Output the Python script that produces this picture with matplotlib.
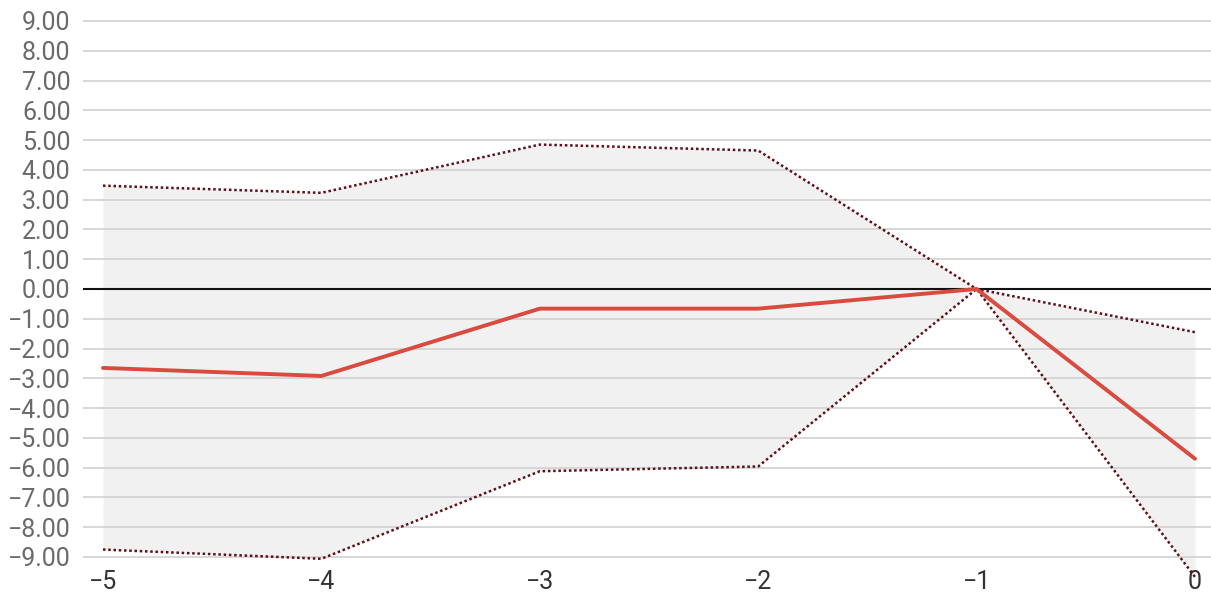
import matplotlib
matplotlib.use("Agg")
import matplotlib.pyplot as plt
from matplotlib.ticker import FuncFormatter

plt.rcParams['font.family'] = ['Roboto', 'DejaVu Sans']

x = [-5, -4, -3, -2, -1, 0]
mean_vals = [-2.65, -2.92, -0.66, -0.66, 0.0, -5.70]
upper_vals = [3.47, 3.23, 4.85, 4.65, 0.0, -1.45]
lower_vals = [-8.75, -9.06, -6.12, -5.96, 0.0, -9.67]
y_ticks = list(range(-9, 10))
x_ticks = [-5, -4, -3, -2, -1, 0]

W, H = 1211, 593
fig = plt.figure(figsize=(W / 100, H / 100), dpi=100)

# axes geometry in pixels
left_px, right_px = 83, 1211
top_px, bot_px = 12, 569
ax = fig.add_axes([left_px / W, 1 - bot_px / H, (right_px - left_px) / W, (bot_px - top_px) / H])

x_unit = (1195 - 103) / 5.0
ax.set_xlim(-5 - (103 - left_px) / x_unit, 0 + (right_px - 1195) / x_unit)
y_unit = (557 - 21) / 18.0
zero_px = 289
ax.set_ylim(-(bot_px - zero_px) / y_unit, (zero_px - top_px) / y_unit)

ax.fill_between(x, lower_vals, upper_vals, color='#f1f1f1', linewidth=0, zorder=1, clip_on=False)

for t in y_ticks:
    if t == 0:
        continue
    ax.axhline(t, color='#d4d4d4', linewidth=1.3, zorder=2)
ax.axhline(0, color='#111111', linewidth=1.5, zorder=3)

ax.plot(x, upper_vals, color='#5c0f14', linestyle=(0, (1, 1.1)), linewidth=1.8, zorder=4, clip_on=False)
ax.plot(x, lower_vals, color='#5c0f14', linestyle=(0, (1, 1.1)), linewidth=1.8, zorder=4, clip_on=False)
ax.plot(x, mean_vals, color='#d94a3f', linewidth=2.8, zorder=5, clip_on=False,
        solid_capstyle='round', solid_joinstyle='round')

for s in ax.spines.values():
    s.set_visible(False)

ax.set_yticks(y_ticks)
ax.yaxis.set_major_formatter(FuncFormatter(lambda v, p: f"{v:.2f}".replace('-', '\u2212')))
ax.set_xticks(x_ticks)
ax.xaxis.set_major_formatter(FuncFormatter(lambda v, p: f"{int(v)}".replace('-', '\u2212')))
ax.tick_params(axis='y', length=0, pad=9, labelsize=18, labelcolor='#6a6a6a')
ax.tick_params(axis='x', length=0, pad=1, labelsize=18, labelcolor='#333333')
ax.set_facecolor('white')

fig.savefig('out.png', dpi=100)
